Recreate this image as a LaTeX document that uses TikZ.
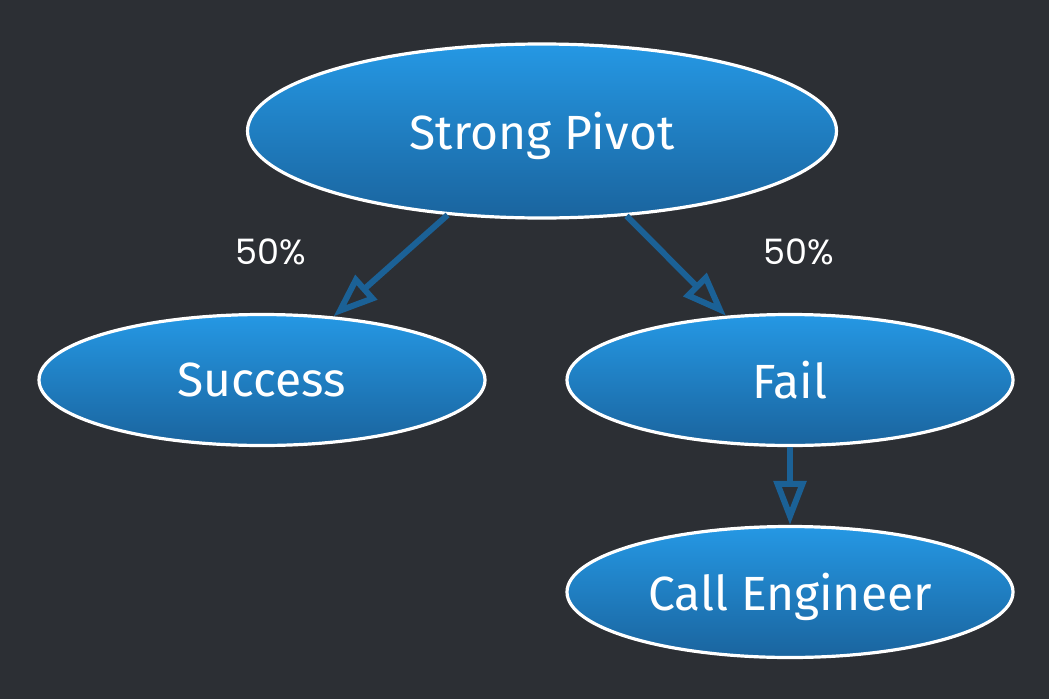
\documentclass[tikz,border=0pt]{standalone}
\usepackage{fontspec}
\setmainfont{Fira Sans}
\newfontfamily\labelfont{Poppins}
\usetikzlibrary{shapes.geometric,arrows.meta}
\definecolor{bgc}{HTML}{2C2F34}
\definecolor{topc}{HTML}{2598E4}
\definecolor{botc}{HTML}{1A649E}
\definecolor{arrc}{HTML}{1B6196}
\tikzset{
  state/.style={ellipse, draw=white, line width=3.2pt, top color=topc, bottom color=botc,
    inner sep=0pt, text=white, text depth=0pt, font=\fontsize{48}{54}\selectfont},
  big/.style={minimum width=589pt, minimum height=174pt},
  small/.style={minimum width=446pt, minimum height=131pt},
  conn/.style={draw=arrc, line width=6pt, -{Triangle[open, length=44pt, width=32pt]}},
  pct/.style={text=white, font=\labelfont\fontsize{35}{40}\selectfont, inner sep=0pt}
}
\begin{document}
\begin{tikzpicture}[x=1pt, y=-1pt]
\fill[bgc] (0,0) rectangle (1049,699);
\useasboundingbox (0,0) rectangle (1049,699);
\node[state, big] (pivot) at (542,131) {Strong Pivot};
\node[state, small] (succ) at (262,380) {Success};
\node[state, small] (fail) at (790,380) {Fail};
\node[state, small] (call) at (790,592) {Call Engineer};
\draw[conn] (pivot) -- (succ);
\draw[conn] (pivot) -- (fail);
\draw[conn] (fail) -- (call);
\node[pct] (l1) at (271,252) {50\%};
\node[pct] (l2) at (799,252) {50\%};
\end{tikzpicture}
\end{document}
